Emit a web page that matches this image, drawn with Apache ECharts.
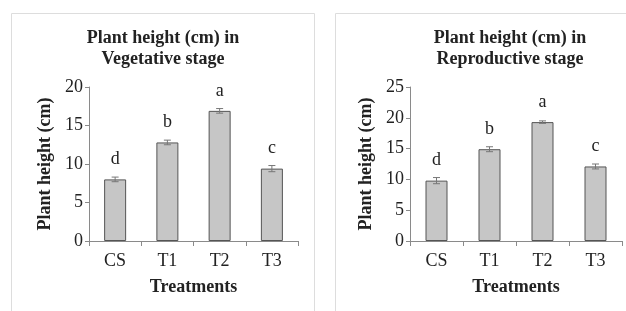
<!DOCTYPE html>
<html>
<head>
<meta charset="utf-8">
<script src="https://cdn.jsdelivr.net/npm/echarts@6/dist/echarts.min.js"></script>
<style>
  html, body { margin: 0; padding: 0; background: #fff; }
  #chart { width: 626px; height: 311px; }
</style>
</head>
<body>
<div id="chart"></div>
<script>
const treatments = ['CS', 'T1', 'T2', 'T3']

// vegetative stage
const vegHeight = [8.0, 12.8, 16.9, 9.4]
const vegError = [0.3, 0.3, 0.3, 0.4]
const vegLetters = ['d', 'b', 'a', 'c']

// reproductive stage
const repHeight = [9.8, 14.9, 19.3, 12.1]
const repError = [0.5, 0.4, 0.2, 0.4]
const repLetters = ['d', 'b', 'a', 'c']

const serif = 'Liberation Serif'
const axisColor = '#8a8a8a'

const chart = echarts.init(document.getElementById('chart'))

// 误差线
function errorSeries(idx, values, errors) {
  return {
    type: 'custom',
    xAxisIndex: idx,
    yAxisIndex: idx,
    z: 5,
    data: values.map((v, i) => [i, v - errors[i], v + errors[i]]),
    renderItem: (params, api) => {
      const lo = api.coord([api.value(0), api.value(1)])
      const hi = api.coord([api.value(0), api.value(2)])
      const w = 3.5
      const style = { stroke: '#777', lineWidth: 1 }
      return {
        type: 'group',
        children: [
          { type: 'line', shape: { x1: hi[0], y1: hi[1], x2: lo[0], y2: lo[1] }, style },
          { type: 'line', shape: { x1: hi[0] - w, y1: hi[1], x2: hi[0] + w, y2: hi[1] }, style },
          { type: 'line', shape: { x1: lo[0] - w, y1: lo[1], x2: lo[0] + w, y2: lo[1] }, style }
        ]
      }
    }
  }
}

function barSeries(idx, values, letters) {
  return {
    type: 'bar',
    xAxisIndex: idx,
    yAxisIndex: idx,
    barWidth: 22,
    data: values,
    itemStyle: { color: '#c6c6c6', borderColor: '#555', borderWidth: 1 },
    label: {
      show: true,
      position: 'top',
      distance: 11,
      formatter: p => letters[p.dataIndex],
      fontFamily: serif,
      fontSize: 18,
      color: '#222'
    }
  }
}

function xAxis(idx) {
  return {
    type: 'category',
    gridIndex: idx,
    data: treatments,
    name: 'Treatments',
    nameLocation: 'middle',
    nameGap: 37,
    nameTextStyle: { fontFamily: serif, fontSize: 18, fontWeight: 'bold', color: '#222' },
    axisLine: { lineStyle: { color: axisColor } },
    axisTick: { show: true, length: 5, lineStyle: { color: axisColor } },
    axisLabel: { fontFamily: serif, fontSize: 18, color: '#222', margin: 11 }
  }
}

function yAxis(idx, max) {
  return {
    type: 'value',
    gridIndex: idx,
    min: 0,
    max: max,
    interval: 5,
    name: 'Plant height (cm)',
    nameLocation: 'middle',
    nameGap: 35,
    nameTextStyle: { fontFamily: serif, fontSize: 18, fontWeight: 'bold', color: '#222' },
    axisLine: { show: true, lineStyle: { color: axisColor } },
    axisTick: { show: true, length: 4, lineStyle: { color: axisColor } },
    axisLabel: { fontFamily: serif, fontSize: 18, color: '#222', margin: 6 },
    splitLine: { show: false }
  }
}

const titleStyle = { fontFamily: serif, fontSize: 18, fontWeight: 'bold', color: '#222', lineHeight: 21 }

chart.setOption({
  animation: false,
  graphic: [
    { type: 'polyline', shape: { points: [[11.5, 311], [11.5, 13.5], [314.5, 13.5], [314.5, 311]] }, style: { stroke: '#ddd', fill: null, lineWidth: 1 } },
    { type: 'polyline', shape: { points: [[335.5, 311], [335.5, 13.5], [626, 13.5]] }, style: { stroke: '#ddd', fill: null, lineWidth: 1 } }
  ],
  title: [
    { text: 'Plant height (cm) in\nVegetative stage', left: 163, top: 28, padding: 0, textAlign: 'center', textStyle: titleStyle },
    { text: 'Plant height (cm) in\nReproductive stage', left: 510, top: 28, padding: 0, textAlign: 'center', textStyle: titleStyle }
  ],
  grid: [
    { left: 89, right: 328, top: 87, bottom: 70 },
    { left: 410, right: 4, top: 87, bottom: 70 }
  ],
  xAxis: [xAxis(0), xAxis(1)],
  yAxis: [yAxis(0, 20), yAxis(1, 25)],
  series: [
    barSeries(0, vegHeight, vegLetters),
    errorSeries(0, vegHeight, vegError),
    barSeries(1, repHeight, repLetters),
    errorSeries(1, repHeight, repError)
  ]
})
</script>
</body>
</html>
